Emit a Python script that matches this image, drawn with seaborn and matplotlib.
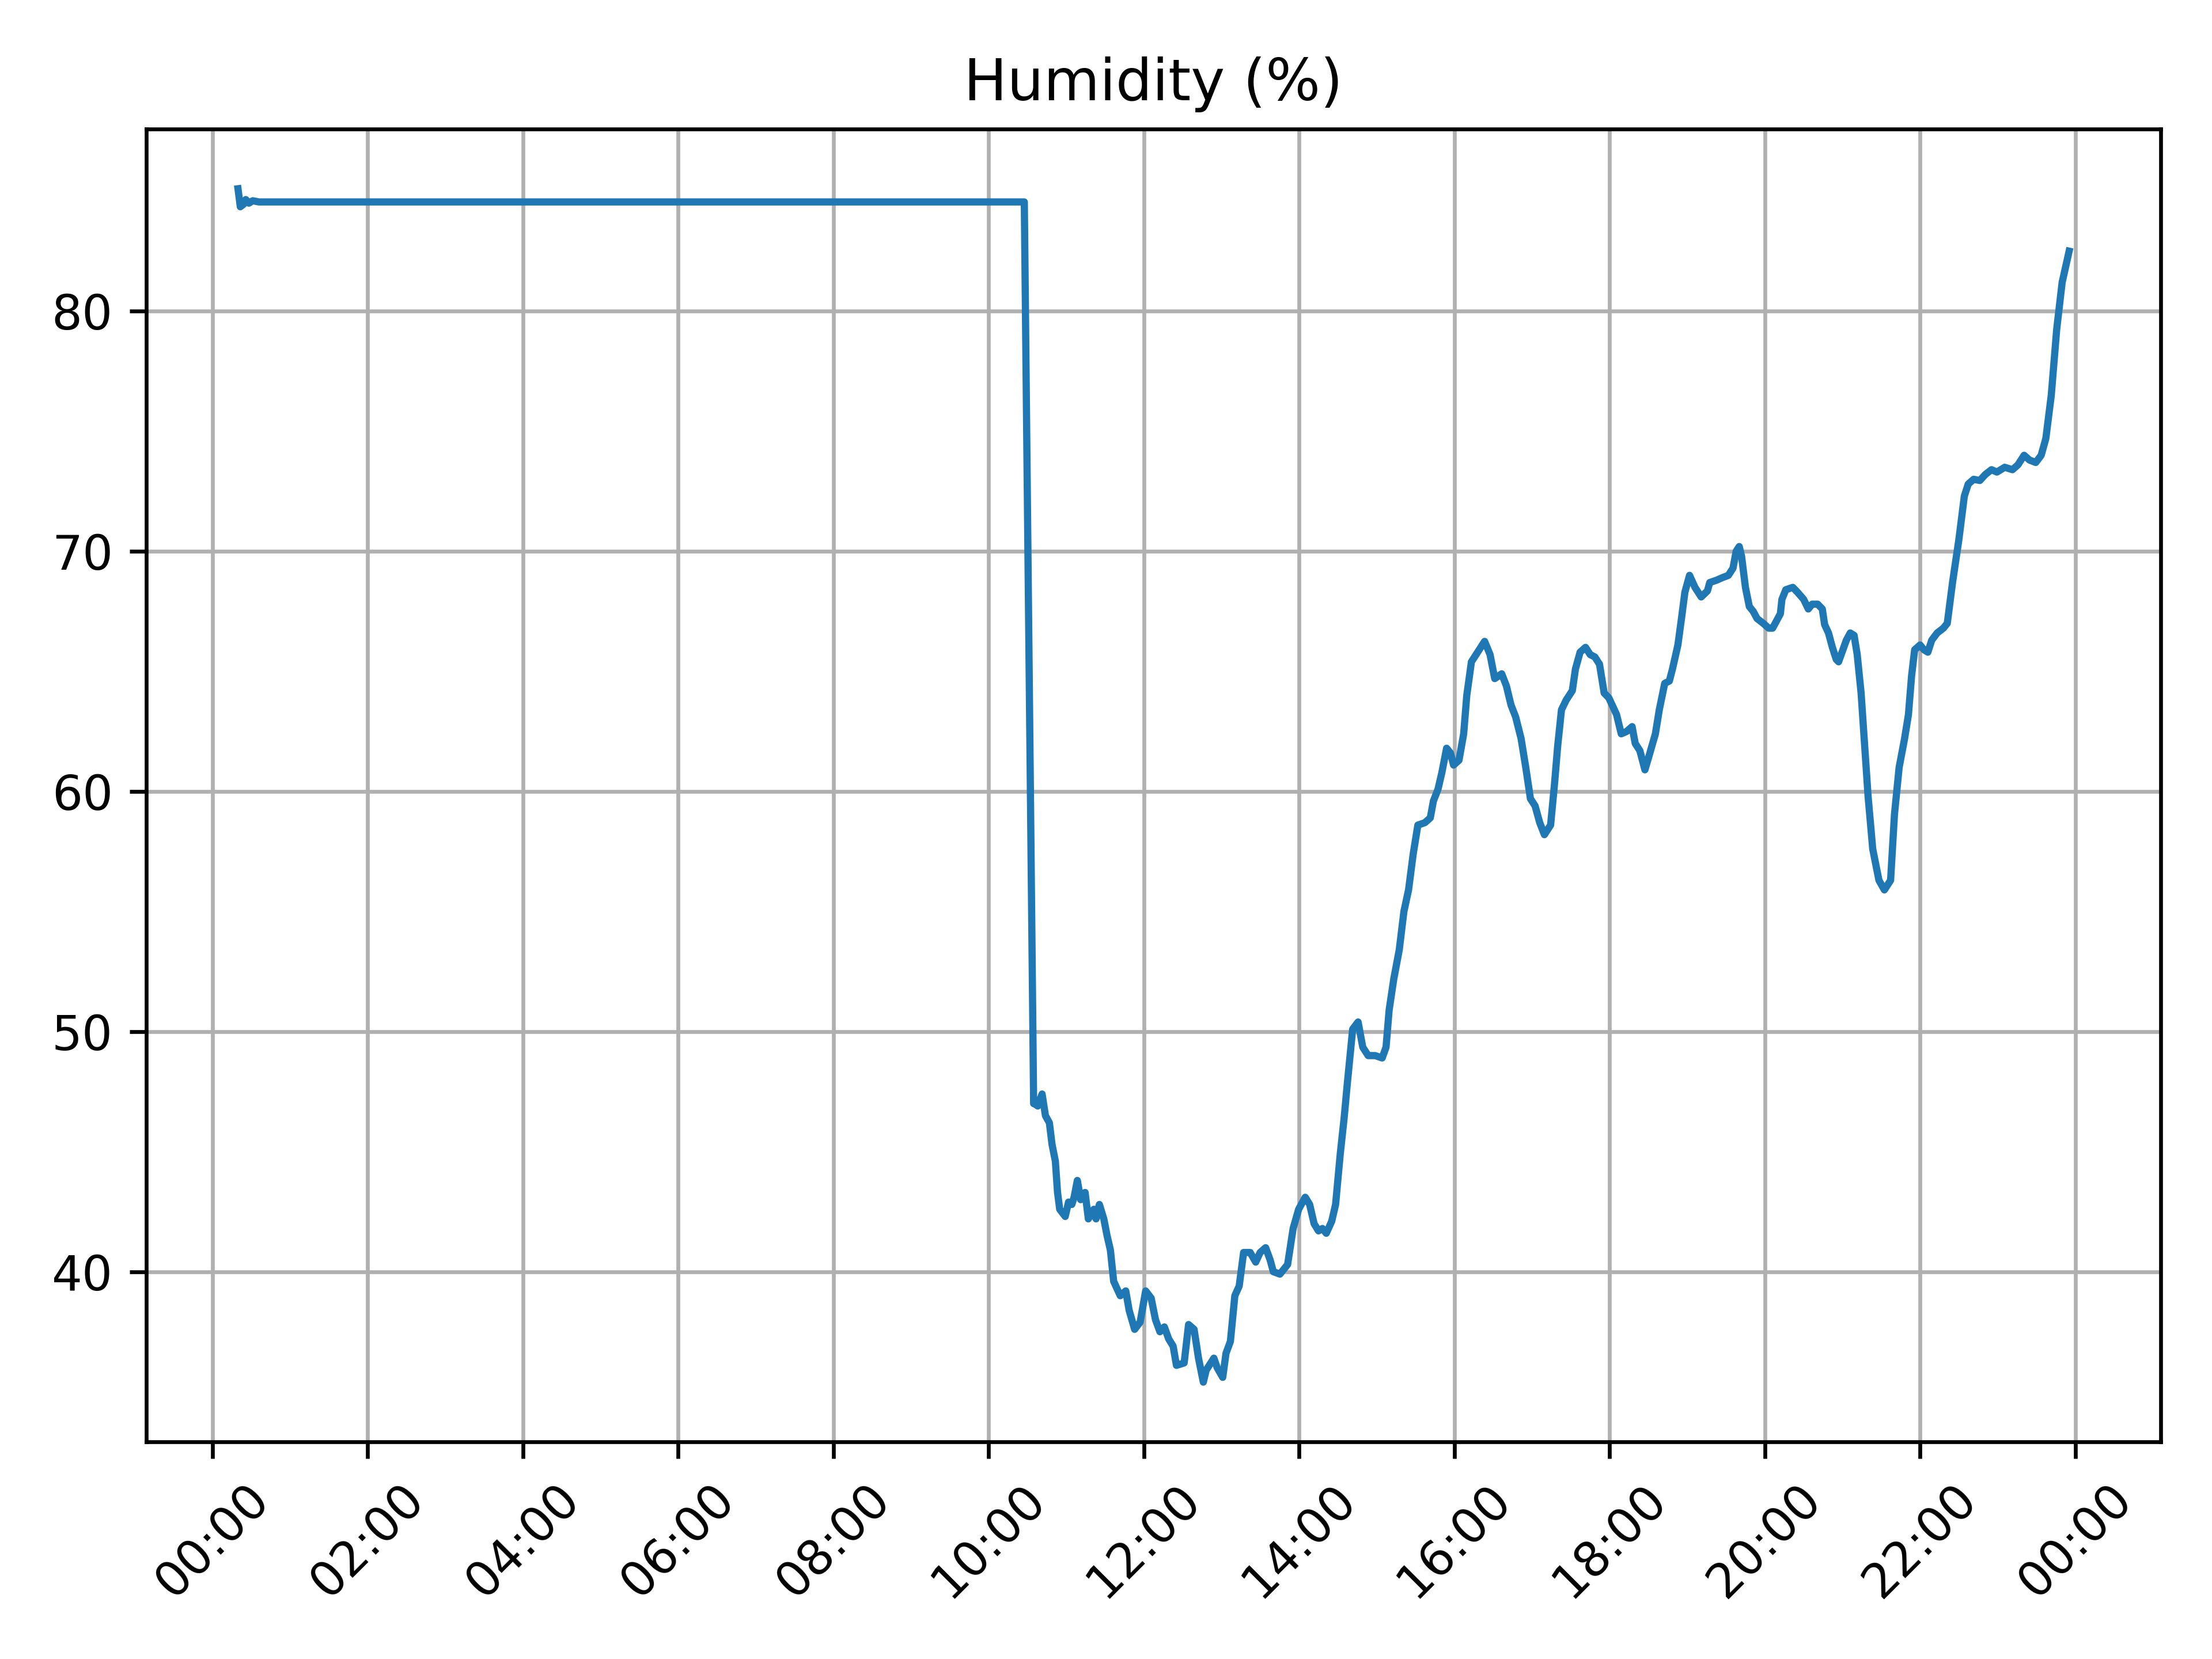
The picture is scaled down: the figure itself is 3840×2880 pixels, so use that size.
import numpy as np
import pandas as pd
import matplotlib
matplotlib.use("Agg")
import matplotlib.pyplot as plt
import matplotlib.dates as mdates
import seaborn as sns

# Hours of the day (decimal) and humidity readings (%)
hours = [
    0.33, 0.36, 0.40, 0.43, 0.47, 0.52, 0.60, 10.46, 10.58,
    10.59, 10.633, 10.689, 10.732, 10.783, 10.817, 10.860, 10.888, 10.916, 10.987,
    11.030, 11.072, 11.101, 11.143, 11.186, 11.243, 11.285, 11.356, 11.384, 11.427,
    11.484, 11.526, 11.569, 11.611, 11.696, 11.767, 11.810, 11.881, 11.952, 12.023,
    12.094, 12.150, 12.207, 12.264, 12.320, 12.377, 12.420, 12.519, 12.576, 12.647,
    12.704, 12.766, 12.803, 12.902, 12.945, 13.016, 13.058, 13.115, 13.172, 13.228,
    13.285, 13.370, 13.441, 13.498, 13.569, 13.626, 13.668, 13.753, 13.852, 13.923,
    13.994, 14.079, 14.136, 14.193, 14.25, 14.30, 14.35, 14.42, 14.47, 14.53,
    14.58, 14.62, 14.69, 14.76, 14.82, 14.89, 14.98, 15.07, 15.12, 15.16,
    15.22, 15.29, 15.35, 15.41, 15.47, 15.53, 15.62, 15.69, 15.73, 15.79,
    15.84, 15.90, 15.95, 15.99, 16.06, 16.12, 16.16, 16.22, 16.30, 16.39,
    16.46, 16.52, 16.61, 16.67, 16.73, 16.79, 16.86, 16.92, 16.98, 17.04,
    17.10, 17.16, 17.24, 17.29, 17.33, 17.38, 17.44, 17.52, 17.56, 17.62,
    17.69, 17.75, 17.81, 17.87, 17.93, 17.99, 18.09, 18.15, 18.22, 18.29,
    18.33, 18.39, 18.455, 18.51, 18.59, 18.64, 18.71, 18.77, 18.81, 18.88,
    18.93, 18.97, 19.03, 19.10, 19.18, 19.26, 19.29, 19.38, 19.45, 19.53,
    19.59, 19.63, 19.67, 19.70, 19.75, 19.80, 19.85, 19.90, 19.98, 20.05,
    20.10, 20.15, 20.20, 20.22, 20.27, 20.36, 20.42, 20.50, 20.56, 20.61,
    20.68, 20.74, 20.77, 20.82, 20.87, 20.92, 20.95, 21.00, 21.05, 21.10,
    21.15, 21.19, 21.24, 21.29, 21.33, 21.39, 21.47, 21.54, 21.62, 21.67,
    21.73, 21.80, 21.85, 21.89, 21.93, 22.00, 22.05, 22.10, 22.15, 22.22,
    22.30, 22.35, 22.42, 22.50, 22.57, 22.62, 22.69, 22.77, 22.84, 22.92,
    22.99, 23.09, 23.19, 23.26, 23.34, 23.41, 23.49, 23.56, 23.62, 23.69,
    23.76, 23.83, 23.92,
]
humidity = [
    85.1, 84.35, 84.45, 84.65, 84.5, 84.6, 84.55, 84.55, 47.0,
    47.0, 46.9, 47.4, 46.5, 46.2, 45.3, 44.6, 43.3, 42.6, 42.3,
    42.9, 42.8, 43.1, 43.8, 43.0, 43.3, 42.2, 42.6, 42.2, 42.8,
    42.2, 41.5, 40.9, 39.6, 39.0, 39.2, 38.4, 37.6, 37.9, 39.2,
    38.9, 38.0, 37.5, 37.7, 37.2, 36.9, 36.1, 36.2, 37.8, 37.6,
    36.4, 35.4, 35.9, 36.4, 36.0, 35.6, 36.6, 37.1, 39.0, 39.4,
    40.8, 40.8, 40.4, 40.8, 41.0, 40.5, 40.0, 39.9, 40.3, 41.8,
    42.6, 43.1, 42.8, 42.0, 41.7, 41.8, 41.6, 42.1, 42.8, 44.9,
    46.4, 47.8, 50.1, 50.4, 49.35, 49.0, 49.0, 48.9, 49.35, 50.9,
    52.2, 53.4, 55.0, 55.9, 57.4, 58.6, 58.7, 58.9, 59.6, 60.1,
    60.8, 61.8, 61.6, 61.1, 61.3, 62.4, 64.0, 65.4, 65.8, 66.25,
    65.7, 64.7, 64.9, 64.4, 63.6, 63.1, 62.2, 61.0, 59.7, 59.4,
    58.7, 58.2, 58.6, 60.3, 61.85, 63.4, 63.8, 64.2, 65.1, 65.8,
    66.0, 65.7, 65.6, 65.3, 64.1, 63.9, 63.2, 62.4, 62.5, 62.7,
    62.0, 61.7, 60.9, 61.5, 62.4, 63.4, 64.5, 64.6, 65.1, 66.1,
    67.3, 68.3, 69.0, 68.5, 68.1, 68.35, 68.7, 68.8, 68.9, 69.0,
    69.3, 70.0, 70.2, 69.8, 68.5, 67.7, 67.5, 67.2, 67.0, 66.8,
    66.8, 67.1, 67.4, 68.0, 68.4, 68.5, 68.3, 68.0, 67.6, 67.8,
    67.8, 67.6, 66.95, 66.6, 66.0, 65.5, 65.4, 65.85, 66.3, 66.6,
    66.5, 65.7, 64.1, 61.7, 59.8, 57.6, 56.3, 55.9, 56.3, 59.05,
    61.0, 62.2, 63.2, 64.8, 65.9, 66.1, 65.9, 65.8, 66.3, 66.6,
    66.8, 67.0, 68.75, 70.5, 72.3, 72.8, 73.0, 72.95, 73.2, 73.4,
    73.3, 73.5, 73.4, 73.6, 74.0, 73.8, 73.7, 74.0, 74.7, 76.5,
    79.25, 81.2, 82.5,
]

base_day = pd.Timestamp("2024-01-01")
times = base_day + pd.to_timedelta(hours, unit="h")
df = pd.DataFrame({"time": times, "humidity": humidity})

fig, ax = plt.subplots(figsize=(6.4, 4.8), dpi=600)
sns.lineplot(data=df, x="time", y="humidity", ax=ax, color="#1f77b4", linewidth=1.5)
ax.set_title("Humidity (%)")
ax.set_xlabel("")
ax.set_ylabel("")
ax.grid(True)
ax.xaxis.set_major_locator(mdates.HourLocator(byhour=range(0, 24, 2)))
ax.xaxis.set_major_formatter(mdates.DateFormatter("%H:%M"))
plt.setp(ax.get_xticklabels(), rotation=45)
fig.subplots_adjust(left=0.0662, right=0.9768, top=0.9222, bottom=0.1309)
fig.savefig("out.png", dpi=600)
